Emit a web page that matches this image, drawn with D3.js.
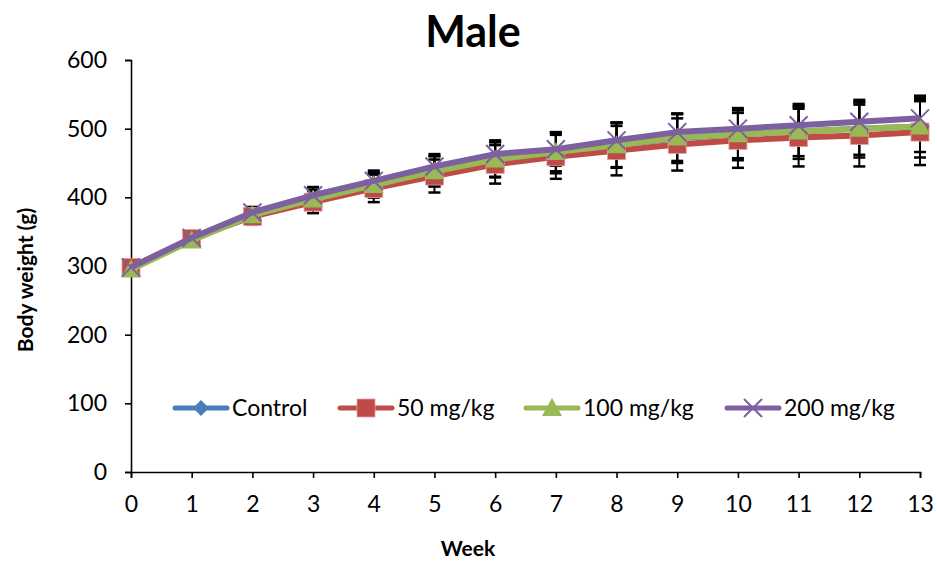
<!DOCTYPE html>
<html>
<head>
<meta charset="utf-8">
<script src="https://cdn.jsdelivr.net/npm/d3@7"></script>
<style>
  body { margin: 0; background: #fff; }
  svg text { font-family: Lato, "Open Sans", sans-serif; fill: #000; }
</style>
</head>
<body>
<div id="chart"></div>
<script>
// weeks on the x axis
var weeks = [0, 1, 2, 3, 4, 5, 6, 7, 8, 9, 10, 11, 12, 13];

// mean body weight (g) per group
var control = [297, 339, 374, 397, 418, 438, 455, 465, 476, 486, 492, 496, 500, 503];
var mg50    = [298, 340, 372, 393, 413, 431, 448, 459, 468, 477, 483, 487, 490, 495];
var mg100   = [295, 337, 374, 397, 418, 438, 455, 466, 476, 487, 492, 496, 500, 503];
var mg200   = [298, 341, 378, 403, 424, 445, 463, 470, 483, 495, 500, 505, 510, 515];

// standard deviations (error bars)
var controlSd = [5, 6, 10, 14, 18, 22, 26, 30, 33, 36, 38, 40, 42, 45];
var mg50Sd    = [5, 6, 12, 16, 20, 24, 28, 32, 36, 38, 40, 42, 45, 48];
var mg100Sd   = [4, 5, 10, 14, 18, 22, 25, 28, 32, 34, 35, 36, 38, 37];
var mg200Sd   = [4, 5, 8, 12, 15, 18, 20, 24, 26, 27, 27, 28, 30, 30];

var groupNames = ["Control", "50 mg/kg", "100 mg/kg", "200 mg/kg"];
var yTicks = [0, 100, 200, 300, 400, 500, 600];

var svgWidth = 937;
var svgHeight = 562;
var margin = { top: 60, right: 17, bottom: 90, left: 131 };
var width = svgWidth - margin.left - margin.right;
var height = svgHeight - margin.top - margin.bottom;

var series = [
  { name: groupNames[0], values: control, sd: controlSd, colour: "#4a7ebb", marker: "diamond" },
  { name: groupNames[1], values: mg50, sd: mg50Sd, colour: "#be4b48", marker: "square" },
  { name: groupNames[2], values: mg100, sd: mg100Sd, colour: "#98b954", marker: "triangle" },
  { name: groupNames[3], values: mg200, sd: mg200Sd, colour: "#7d60a0", marker: "cross" }
];

var svg = d3.select("#chart")
  .append("svg")
  .attr("width", svgWidth)
  .attr("height", svgHeight);

var chartGroup = svg.append("g")
  .attr("transform", `translate(${margin.left}, ${margin.top})`);

var xScale = d3.scaleLinear().domain([0, 13]).range([0, width]);
var yScale = d3.scaleLinear().domain([0, 600]).range([height, 0]);

// axes
var xAxis = chartGroup.append("g")
  .attr("transform", `translate(0, ${height})`)
  .call(d3.axisBottom(xScale).tickValues(weeks).tickFormat(d3.format("d")).tickSizeOuter(0).tickSize(6).tickPadding(18));

var yAxis = chartGroup.append("g")
  .call(d3.axisLeft(yScale).tickValues(yTicks).tickSizeOuter(0).tickSize(6).tickPadding(18));

[xAxis, yAxis].forEach(function(ax) {
  ax.select(".domain").attr("stroke", "#000").attr("stroke-width", 1.6);
  ax.selectAll(".tick line").attr("stroke", "#000").attr("stroke-width", 1.6);
  ax.selectAll(".tick text").style("font-size", "23px");
});

// marker shapes
function drawMarker(g, type, colour) {
  if (type === "diamond") {
    g.append("path").attr("d", "M0,-8L8,0L0,8L-8,0Z").attr("fill", colour);
  } else if (type === "square") {
    g.append("rect").attr("x", -9).attr("y", -9).attr("width", 18).attr("height", 18)
      .attr("fill", colour).attr("stroke", "#e8a0a0").attr("stroke-width", 0.8);
  } else if (type === "triangle") {
    g.append("path").attr("d", "M0,-10L10,8L-10,8Z").attr("fill", colour);
  } else {
    g.append("path").attr("d", "M-9,-9L9,9M-9,9L9,-9")
      .attr("stroke", colour).attr("stroke-width", 2).attr("fill", "none");
  }
}

// error bars first, lines and markers on top
var errGroup = chartGroup.append("g");
series.forEach(function(s) {
  s.values.forEach(function(v, i) {
    var x = xScale(weeks[i]);
    var y1 = yScale(v + s.sd[i]);
    var y2 = yScale(v - s.sd[i]);
    errGroup.append("line").attr("x1", x).attr("x2", x).attr("y1", y1).attr("y2", y2)
      .attr("stroke", "#000").attr("stroke-width", 2);
    [y1, y2].forEach(function(yc) {
      errGroup.append("line").attr("x1", x - 6).attr("x2", x + 6).attr("y1", yc).attr("y2", yc)
        .attr("stroke", "#000").attr("stroke-width", 2.5);
    });
  });
});

var line = d3.line()
  .x(function(d, i) { return xScale(weeks[i]); })
  .y(function(d) { return yScale(d); });

series.forEach(function(s) {
  chartGroup.append("path")
    .datum(s.values)
    .attr("d", line)
    .attr("fill", "none")
    .attr("stroke", s.colour)
    .attr("stroke-width", 6)
    .attr("stroke-linejoin", "round");
  s.values.forEach(function(v, i) {
    var g = chartGroup.append("g")
      .attr("transform", `translate(${xScale(weeks[i])}, ${yScale(v)})`);
    drawMarker(g, s.marker, s.colour);
  });
});

// legend inside the plot
var legendX = [173, 338, 524, 725];
var legendY = 408;
series.forEach(function(s, i) {
  var lg = svg.append("g").attr("transform", `translate(${legendX[i]}, ${legendY})`);
  lg.append("line").attr("x1", 2).attr("x2", 54).attr("y1", 0).attr("y2", 0)
    .attr("stroke", s.colour).attr("stroke-width", 5).attr("stroke-linecap", "round");
  var m = lg.append("g").attr("transform", "translate(28, 0)");
  drawMarker(m, s.marker, s.colour);
  lg.append("text").attr("x", 59).attr("y", 8).style("font-size", "23px").text(s.name);
});

// titles
svg.append("text")
  .attr("x", 473).attr("y", 47)
  .attr("text-anchor", "middle")
  .style("font-size", "43px").style("font-weight", "bold")
  .text("Male");

svg.append("text")
  .attr("x", 468).attr("y", 556)
  .attr("text-anchor", "middle")
  .style("font-size", "21px").style("font-weight", "bold")
  .text("Week");

svg.append("text")
  .attr("transform", "rotate(-90)")
  .attr("x", -280).attr("y", 33)
  .attr("text-anchor", "middle")
  .style("font-size", "21px").style("font-weight", "bold")
  .text("Body weight (g)");
</script>
</body>
</html>
